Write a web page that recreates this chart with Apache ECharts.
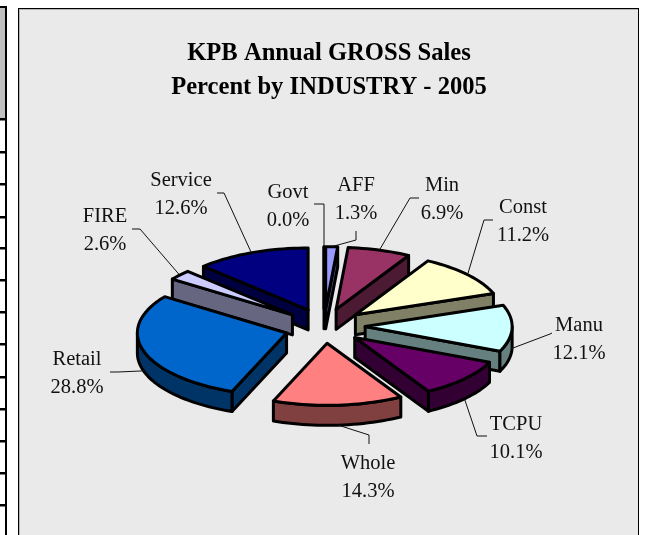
<!DOCTYPE html>
<html><head><meta charset="utf-8">
<style>html,body{margin:0;padding:0;background:#fff}#c{width:645px;height:535px}</style>
<script src="https://cdn.jsdelivr.net/npm/echarts@6/dist/echarts.min.js"></script>
</head><body><div id="c"></div>
<script>
const categories = ['Govt','AFF','Min','Const','Manu','TCPU','Whole','Retail','FIRE','Service'];
const values = [0.0,1.3,6.9,11.2,12.1,10.1,14.3,28.8,2.6,12.6];
const topColors = ['#9999FF','#9999FF','#993366','#FFFFCC','#CCFFFF','#660066','#FF8080','#0066CC','#CCCCFF','#000080'];
const wallColors = ['#4C4C80','#4C4C80','#4D1A33','#808066','#668080','#330033','#804040','#003366','#666680','#000040'];
const titleLines = ['KPB Annual GROSS Sales','Percent by INDUSTRY - 2005'];
// label centre x, first line centre y, then leader elbow and leader end
const labelLayout = {
  Govt:[288,193,[324,204],[314,204]], AFF:[356,186,[356,240],[356,231]], Min:[442,186,[410,198],[419,198]],
  Const:[523,208,[484,220],[493,220]], Manu:[579,326,[550,334],[552,333]], TCPU:[516,425,[477,436],[487,436]],
  Whole:[368,464,[369,435],[369,444]], Retail:[77,360,[118,372],[110,372]], FIRE:[105,217,[140,229],[132,229]],
  Service:[181,181,[224,193],[217,193]]
};
const geom = {cx:324, cy:326, a:147, b:62, depth:20, explode:0.28};
const sliceShift = {Retail:[2,2]};
const sliceGrow = {Retail:1.015};
const total = values.reduce((s,v)=>s+v,0);
const rad = d => d*Math.PI/180;
const rows = []; let cum = 0;
values.forEach((v,i)=>{
  const t1 = cum/total*360; cum += v; const t2 = cum/total*360;
  rows.push({name:categories[i], value:[i,t1,t2,v]});
});
const depthOf = r => { const m=(r.value[1]+r.value[2])/2; return -Math.cos(rad(m)); };
const ordered = rows.slice().sort((p,q)=>depthOf(p)-depthOf(q));
function pt(o,t,dy,g){g=g||1;return [o[0]+g*geom.a*Math.sin(rad(t)), o[1]-g*geom.b*Math.cos(rad(t))+(dy||0)];}
function origin(i,t1,t2){
  const m=(t1+t2)/2,s=sliceShift[categories[i]]||[0,0];
  return [geom.cx+s[0]+geom.explode*geom.a*Math.sin(rad(m)), geom.cy+s[1]-geom.explode*geom.b*Math.cos(rad(m))];
}
function arc(o,s,e,dy,g){const n=Math.max(2,Math.ceil((e-s)/2));const r=[];for(let k=0;k<=n;k++)r.push(pt(o,s+(e-s)*k/n,dy,g));return r;}
function poly(points,fill){return {type:'polygon',shape:{points},style:{fill,stroke:'#000',lineWidth:3,lineJoin:'round'}};}
function renderSlice(params,api){
  const i=api.value(0),t1=api.value(1),t2=api.value(2),g=sliceGrow[categories[i]]||1;
  const o=origin(i,t1,t2),d=geom.depth,wall=wallColors[i],kids=[];
  const oB=[o[0],o[1]+d];
  if(Math.sin(rad(t1))<0) kids.push(poly([o,pt(o,t1,0,g),pt(o,t1,d,g),oB],wall));
  if(Math.sin(rad(t2))>0||t2===t1) kids.push(poly([o,pt(o,t2,0,g),pt(o,t2,d,g),oB],wall));
  const s=Math.max(t1,90),e=Math.min(t2,270);
  if(e>s) kids.push(poly(arc(o,s,e,0,g).concat(arc(o,s,e,d,g).reverse()),wall));
  kids.push(poly([o].concat(arc(o,t1,t2,0,g)),topColors[i]));
  return {type:'group',children:kids};
}
function renderLabel(params,api){
  const i=api.value(0),t1=api.value(1),t2=api.value(2),v=api.value(3);
  const m=(t1+t2)/2,o=origin(i,t1,t2),L=labelLayout[categories[i]];
  const anchor=(m>=80&&m<=285)?pt(o,m,geom.depth):pt(o,m);
  const font={fontFamily:'Liberation Serif',fontSize:20.5,fill:'#111',align:'center',verticalAlign:'middle'};
  return {type:'group',silent:true,children:[
    {type:'polyline',shape:{points:[anchor,L[2],L[3]]},style:{fill:'none',stroke:'#111',lineWidth:1}},
    {type:'text',style:Object.assign({x:L[0],y:L[1],text:categories[i]},font)},
    {type:'text',style:Object.assign({x:L[0],y:L[1]+28,text:v.toFixed(1)+'%'},font)}
  ]};
}
const rowLines=[119,152,184,217,248,280,312,344,377,409,441,473,505];
const graphics=[
  {type:'rect',shape:{x:0,y:8,width:5,height:110},style:{fill:'#C0C0C0'},z:0},
  {type:'rect',shape:{x:0,y:6,width:7,height:2},style:{fill:'#000'},z:0},
  {type:'rect',shape:{x:5,y:6,width:2,height:529},style:{fill:'#000'},z:0},
  {type:'rect',shape:{x:18,y:8,width:621,height:530},style:{fill:'#000'},z:0},
  {type:'rect',shape:{x:19,y:9,width:619,height:530},style:{fill:'#B4B4B4'},z:0},
  {type:'rect',shape:{x:20,y:10,width:618,height:530},style:{fill:'#EAEAEA'},z:0}
];
rowLines.forEach(y=>graphics.push({type:'rect',shape:{x:0,y:y-1,width:7,height:2.5},style:{fill:'#000'},z:0}));
const chart=echarts.init(document.getElementById('c'),null,{renderer:'canvas'});
chart.setOption({
  animation:false,
  backgroundColor:'#fff',
  graphic:{elements:graphics},
  title:{text:titleLines.join('\n'),left:324,top:32,textAlign:'center',
    textStyle:{fontFamily:'Liberation Serif',fontWeight:'bold',fontSize:24.6,lineHeight:34,color:'#000'}},
  series:[
    {type:'custom',coordinateSystem:'none',renderItem:renderSlice,data:ordered,z:3,silent:true,clip:false},
    {type:'custom',coordinateSystem:'none',renderItem:renderLabel,data:rows,z:4,silent:true,clip:false}
  ]
});
</script></body></html>
